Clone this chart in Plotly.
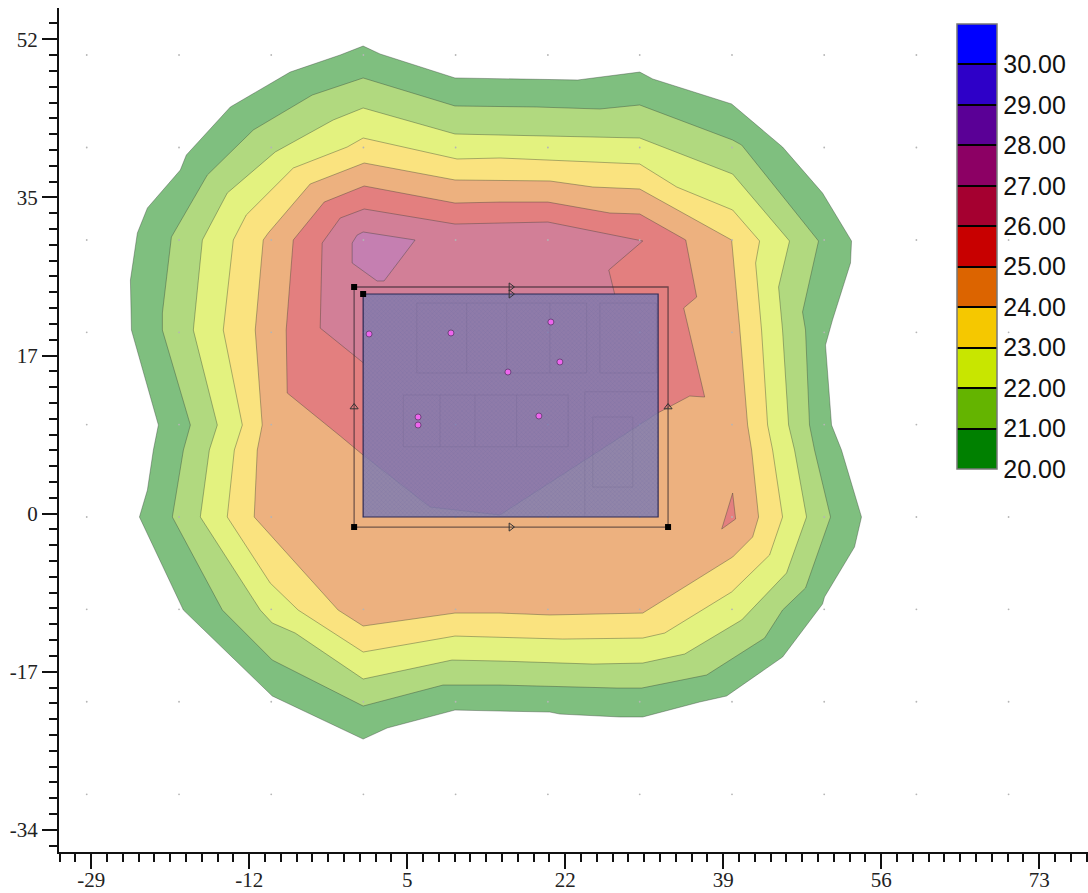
import plotly.graph_objects as go

# ---------- data ----------
level_bands = [20, 21, 22, 23, 24, 25, 26, 27, 28, 29, 30]
band_colors = ["#008000", "#64B400", "#C8E600", "#F5C800", "#DC6400", "#C80000",
               "#A50030", "#8C0064", "#5A0096", "#2E00C8", "#0000FF"]

x_ticks = [-29, -12, 5, 22, 39, 56, 73]
x_tick_text = ["-29", "-12", "5", "22", "39", "56", "73"]
y_tick_vals = [52, 34.67, 17.33, 0, -17.33, -34.67]
y_tick_text = ["52", "35", "17", "0", "-17", "-34"]

c1_x = [.26,2.08,10.14,16.38,23.36,30.02,31.42,39.91,45.39,49.69,52.81,52.70,50.76,50.01,50.66,51.73,53.88,53.13,49.90,49.69,45.39,39.37,36.47,30.35,27.88,21.43,20.35,14.98,10.14,2.84,.26,-9.52,-19.08,-23.81,-22.95,-22.31,-21.77,-24.67,-24.78,-24.03,-22.95,-19.41,-18.76,-14.03,-7.59,-2.21]
c1_y = [51.25,50.38,47.75,47.64,47.53,48.40,47.64,44.90,40.18,35.14,29.88,27.47,21.22,18.48,9.71,6.97,-.37,-3.66,-9.14,-9.91,-15.72,-19.99,-20.65,-22.29,-22.29,-21.97,-21.75,-21.64,-21.53,-23.50,-24.71,-19.99,-10.57,-.37,2.59,6.97,9.71,20.12,25.60,30.76,33.50,37.66,39.31,44.57,48.40,50.27]

c2_x = [.26,10.14,18.96,25.73,30.02,40.02,40.99,49.26,47.54,47.86,48.29,48.83,50.55,47.86,45.39,43.46,37.22,30.24,27.55,23.25,14.98,8.85,.26,-9.52,-14.89,-20.27,-19.08,-18.33,-21.34,-21.34,-20.37,-16.51,-11.56,-5.22]
c2_y = [47.75,44.68,44.57,44.35,44.79,40.95,40.40,29.88,22.10,20.12,9.71,6.97,-.37,-8.15,-10.57,-13.64,-17.69,-19.12,-19.12,-19.01,-18.79,-18.79,-21.09,-16.05,-10.57,-.37,6.97,9.71,20.12,21.99,30.32,37.11,42.05,45.88]

c3_x = [.26,10.14,14.98,30.02,40.02,46.14,44.96,45.39,46.04,46.68,47.97,45.82,40.99,34.86,30.35,24.97,14.98,9.82,.26,-7.05,-9.52,-10.81,-17.26,-16.29,-15.43,-18.01,-17.04,-14.36,-9.20,-2.97]
c3_y = [44.46,41.61,41.50,41.17,37.22,29.88,24.84,20.12,9.71,6.97,-.37,-6.51,-11.66,-15.39,-16.38,-16.49,-16.16,-16.05,-18.13,-13.09,-11.99,-10.57,-.37,6.97,9.71,20.12,29.99,35.14,39.64,43.14]

c4_x = [.26,10.36,14.98,20.35,30.02,34.00,40.02,42.92,42.49,43.13,43.78,44.32,45.39,43.99,39.91,32.71,30.35,21.75,14.98,10.14,.26,-6.73,-9.74,-14.36,-13.60,-12.74,-14.79,-13.71,-12.32,-7.26,-1.46]
c4_y = [41.17,38.87,38.98,38.76,38.32,35.80,33.28,29.88,27.47,20.12,9.71,6.97,-.37,-4.54,-8.59,-13.09,-13.64,-13.75,-13.53,-13.42,-15.17,-10.57,-7.61,-.37,6.97,9.71,20.12,29.99,32.73,37.88,40.18]

c5_x = [.37,10.14,20.35,24.97,30.02,39.91,40.77,41.63,42.06,42.81,42.17,40.02,30.35,25.40,20.35,14.98,10.14,.26,-2.43,-11.46,-11.13,-10.60,-11.35,-10.49,-9.95,-5.44]
c5_y = [38.43,36.57,36.46,35.80,35.58,29.99,20.45,9.71,6.97,-.37,-2.56,-4.76,-10.90,-11.00,-11.11,-10.90,-10.90,-12.32,-10.57,-.37,6.97,9.71,20.12,29.99,30.76,36.13]

c6_x = [.37,10.14,14.98,20.14,26.80,30.02,34.97,36.15,34.75,35.29,37.01,35.40,31.96,14.98,7.46,.26,-2.21,-7.91,-8.02,-7.26,-3.93]
c6_y = [35.91,34.04,34.15,34.15,32.95,32.84,29.99,23.74,22.54,20.12,12.78,12.89,11.03,-.15,.72,6.42,8.51,13.22,20.12,29.99,34.15]

c6b_x = [40.02,40.34,38.84]
c6b_y = [2.26,-.59,-1.69]

c7_x = [.37,10.14,14.98,20.14,30.35,26.69,27.34,.3,.3,-4.36,-4.15,-2.21]
c7_y = [33.39,31.74,31.85,31.96,29.88,26.70,24.0,24.0,16.51,20.34,29.66,32.40]

c8_x = [.26,5.85,2.51,1.76,-.92,-.92,-.39]
c8_y = [30.87,29.99,25.50,25.50,27.47,29.66,30.53]

plan_x = [.26, 32.0, 32.0, .26, .26]
plan_y = [24.07, 24.07, -.37, -.37, 24.07]
frame_x = [-.71, 33.07, 33.07, -.71, -.71]
frame_y = [24.84, 24.84, -1.47, -1.47, 24.84]

corner_x = [-.71, .26, -.71, 33.07]
corner_y = [24.84, 24.07, -1.47, -1.47]
mid_r_x = [16.16, 16.16, 16.16]
mid_r_y = [24.84, 24.07, -1.47]
mid_u_x = [-.71, 33.07]
mid_u_y = [11.68, 11.68]

sensor_x = [.90, 9.71, 20.46, 21.43, 15.84, 6.17, 6.17, 19.17]
sensor_y = [19.69, 19.80, 21.00, 16.62, 15.52, 10.59, 9.71, 10.70]

grid_x = [-29.48, -19.55, -9.63, .29, 10.21, 20.14, 30.02, 39.95, 49.87, 59.79, 69.71]
grid_y = [50.27, 40.13, 29.99, 19.87, 9.76, -.37, -10.49, -20.62, -30.77, -40.9]

room_x = [4.59,22.32,22.32,4.59,4.59,None, 24.11,31.96,None, 24.11,24.11,None,
          6.03,24.30,24.30,6.03,6.03,None, 25.73,31.82,31.82,25.73,25.73,None,
          8.53,8.53,None, 12.29,12.29,None, 16.77,16.77,None,
          11.4,11.4,None, 15.7,15.7,None, 20.35,20.35,None,
          24.97,29.27,29.27,24.97,24.97]
room_y = [13.0,13.0,7.33,7.33,13.0,None, 13.36,13.36,None, 13.36,-.34,None,
          23.08,23.08,15.41,15.41,23.08,None, 23.08,23.08,15.41,15.41,23.08,None,
          13.0,7.33,None, 13.0,7.33,None, 13.0,7.33,None,
          23.08,15.41,None, 23.08,15.41,None, 23.08,15.41,None,
          10.59,10.59,2.91,2.91,10.59]

# ---------- styling ----------
def pale(hex_color):
    r, g, b = (int(hex_color[i:i + 2], 16) for i in (1, 3, 5))
    return f"rgb({(r + 255) // 2},{(g + 255) // 2},{(b + 255) // 2})"

EDGE = "rgba(50,60,50,0.55)"
fig = go.Figure()

contours = [(c1_x, c1_y, 0), (c2_x, c2_y, 1), (c3_x, c3_y, 2), (c4_x, c4_y, 3),
            (c5_x, c5_y, 4), (c6_x, c6_y, 5), (c6b_x, c6b_y, 5), (c7_x, c7_y, 6), (c8_x, c8_y, 7)]
for xs, ys, idx in contours:
    fig.add_trace(go.Scatter(x=xs + xs[:1], y=ys + ys[:1], mode="lines", fill="toself",
                             fillcolor=pale(band_colors[idx]),
                             line=dict(color=EDGE, width=0.7), hoverinfo="skip"))

gx = [x for x in grid_x for _ in grid_y]
gy = [y for _ in grid_x for y in grid_y]
fig.add_trace(go.Scatter(x=gx, y=gy, mode="markers", cliponaxis=False,
                         marker=dict(size=1.8, color="#b5b5b5"), hoverinfo="skip"))

fig.add_trace(go.Scatter(x=plan_x, y=plan_y, mode="lines", fill="toself",
                         fillcolor="rgba(122,122,180,0.8)",
                         fillpattern=dict(shape="x", size=3, solidity=0.25,
                                          fgcolor="rgba(108,104,160,0.85)",
                                          bgcolor="rgba(122,122,180,0.8)"),
                         line=dict(color="#2e2a55", width=1.2), hoverinfo="skip"))
fig.add_trace(go.Scatter(x=room_x, y=room_y, mode="lines",
                         line=dict(color="rgba(95,85,125,0.22)", width=0.8), hoverinfo="skip"))
fig.add_trace(go.Scatter(x=frame_x, y=frame_y, mode="lines",
                         line=dict(color="rgba(40,30,40,0.62)", width=1.3), hoverinfo="skip"))
fig.add_trace(go.Scatter(x=corner_x, y=corner_y, mode="markers",
                         marker=dict(symbol="square", size=6, color="black")))
fig.add_trace(go.Scatter(x=mid_r_x, y=mid_r_y, mode="markers",
                         marker=dict(symbol="triangle-right-open", size=7, color="#333", line=dict(width=1))))
fig.add_trace(go.Scatter(x=mid_u_x, y=mid_u_y, mode="markers",
                         marker=dict(symbol="triangle-up-open", size=7, color="#333", line=dict(width=1))))
fig.add_trace(go.Scatter(x=sensor_x, y=sensor_y, mode="markers",
                         marker=dict(size=6, color="#EE66EE", line=dict(color="#5a3a6a", width=0.8))))

# colour legend, one step per degree
n = len(band_colors)
scale = []
for i, c in enumerate(band_colors):
    scale += [[i / n, c], [(i + 1) / n, c]]
fig.add_trace(go.Scatter(
    x=[None], y=[None], mode="markers",
    marker=dict(color=[level_bands[0]], cmin=level_bands[0], cmax=level_bands[-1] + 1,
                colorscale=scale, showscale=True,
                colorbar=dict(x=(957 - 59) / 1029, xanchor="left", xpad=0, ypad=0,
                              y=(852 - 24) / 844, yanchor="top",
                              thicknessmode="pixels", thickness=40, lenmode="pixels", len=445,
                              tickvals=level_bands, tickformat=".2f", ticks="inside", ticklen=40,
                              tickcolor="black", tickwidth=1.5, outlinecolor="#777", outlinewidth=1.5,
                              tickfont=dict(family="Liberation Sans", size=25, color="#111")))))

axis_font = dict(family="Liberation Serif", size=21, color="#222")
minor_common = dict(ticks="outside", ticklen=8, tickwidth=2, tickcolor="#111")
fig.update_layout(
    width=1088, height=893, showlegend=False, plot_bgcolor="white", paper_bgcolor="white",
    margin=dict(l=59, r=0, t=8, b=41, autoexpand=False),
    xaxis=dict(range=[-32.465, 78.255], tickvals=x_ticks, ticktext=x_tick_text, showgrid=False,
               zeroline=False, showline=True, linecolor="#111", linewidth=2, ticks="outside",
               ticklen=15, tickwidth=2, tickcolor="#111", tickfont=axis_font,
               ticklabelstandoff=-7,
               minor=dict(tick0=-29, dtick=1.7, **minor_common)),
    yaxis=dict(range=[-37.09, 55.42], tickvals=y_tick_vals, ticktext=y_tick_text, showgrid=False,
               zeroline=False, showline=True, linecolor="#111", linewidth=2, ticks="outside",
               ticklen=15, tickwidth=2, tickcolor="#111", tickfont=axis_font,
               minor=dict(tick0=0, dtick=1.733, **minor_common)),
)
fig.write_html("out.html", config=dict(displayModeBar=False),
               post_script="document.body.style.margin='0';")
